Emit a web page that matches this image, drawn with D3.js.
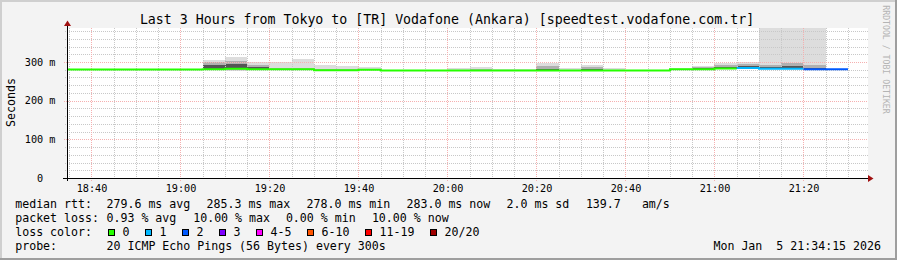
<!DOCTYPE html>
<html>
<head>
<meta charset="utf-8">
<script src="https://cdn.jsdelivr.net/npm/d3@7"></script>
<style>
  html, body { margin: 0; padding: 0; background: #f3f3f3; }
  svg { display: block; }
  text { font-family: "DejaVu Sans Mono", monospace; fill: #000; white-space: pre; }
</style>
</head>
<body>
<script>
// ---- data ----
const titleText = "Last 3 Hours from Tokyo to [TR] Vodafone (Ankara) [speedtest.vodafone.com.tr]";

// 5 minute steps (start time of each step)
const stepStarts = [
  "18:30", "18:35", "18:40", "18:45", "18:50", "18:55", "19:00", "19:05", "19:10",
  "19:15", "19:20", "19:25", "19:30", "19:35", "19:40", "19:45", "19:50", "19:55",
  "20:00", "20:05", "20:10", "20:15", "20:20", "20:25", "20:30", "20:35", "20:40",
  "20:45", "20:50", "20:55", "21:00", "21:05", "21:10", "21:15", "21:20", "21:25"
];

// median rtt (ms)
const median = [
  280.5, 280.5, 280.5, 280.5, 280.5, 280.5, 280.5, 281.0, 282.5,
  281.0, 281.0, 281.0, 278.7, 278.7, 280.0, 278.0, 278.0, 278.0,
  278.0, 278.0, 278.0, 278.0, 278.0, 278.0, 278.0, 278.0, 278.0,
  278.0, 281.5, 281.5, 283.5, 284.5, 282.5, 282.5, 281.0, 281.0
];

// lost pings out of 20
const lossCount = [
  0, 0, 0, 0, 0, 0, 0, 0, 0,
  0, 0, 0, 0, 0, 0, 0, 0, 0,
  0, 0, 0, 0, 0, 0, 0, 0, 0,
  0, 0, 0, 0, 1, 1, 1, 2, 2
];

// smoke: spread of the 20 pings (ms)
const pingMin = [
  279.5, 279.5, 279.5, 279.5, 279.5, 279.5, 279.5, 279.5, 278.0,
  279.5, 279.5, 279.5, 278.0, 278.0, 279.0, 277.5, 277.5, 277.5,
  277.5, 277.5, 277.5, 277.5, 277.5, 277.5, 277.5, 277.5, 277.5,
  277.5, 280.5, 280.5, 281.0, 283.0, 281.0, 281.0, 280.0, 280.0
];
const pingP10 = [
  280.0, 280.0, 280.0, 280.0, 280.0, 280.0, 280.0, 280.0, 279.5,
  280.0, 280.0, 280.0, 278.3, 278.3, 279.5, 277.8, 277.8, 277.8,
  277.8, 277.8, 277.8, 277.8, 278.0, 277.8, 278.0, 277.8, 277.8,
  277.8, 281.0, 281.0, 282.0, 284.0, 282.0, 282.0, 280.5, 280.5
];
const pingP25 = [
  280.5, 280.5, 280.5, 280.5, 280.5, 280.5, 280.5, 281.0, 281.0,
  281.0, 280.5, 280.5, 278.5, 278.5, 280.0, 278.0, 278.0, 278.0,
  278.0, 278.0, 278.0, 278.0, 278.5, 278.0, 278.5, 278.0, 278.0,
  278.0, 281.5, 281.5, 283.0, 284.5, 282.5, 283.0, 281.0, 281.0
];
const pingP75 = [
  280.5, 280.5, 280.5, 280.5, 280.5, 280.5, 280.5, 293.0, 295.0,
  287.0, 282.0, 282.0, 280.0, 280.0, 281.0, 278.0, 278.0, 278.0,
  279.0, 279.0, 278.5, 278.5, 283.0, 279.0, 281.0, 279.0, 278.0,
  278.0, 282.0, 284.0, 286.0, 290.0, 286.0, 290.0, 285.0, 281.5
];
const pingP90 = [
  281.0, 281.0, 281.0, 281.0, 281.0, 281.0, 281.0, 300.0, 302.0,
  293.0, 284.0, 285.0, 283.0, 282.0, 282.0, 278.5, 278.5, 278.5,
  280.0, 281.0, 279.0, 279.0, 291.0, 280.0, 286.0, 280.0, 278.5,
  278.5, 283.0, 287.0, 292.0, 296.0, 292.0, 298.0, 293.0, 282.0
];
const pingMax = [
  281.5, 281.5, 281.5, 281.5, 281.5, 281.5, 281.5, 305.0, 313.0,
  300.0, 300.0, 308.0, 293.0, 290.0, 288.0, 279.0, 279.0, 279.0,
  284.0, 288.0, 282.0, 282.0, 298.0, 284.0, 292.0, 284.0, 279.0,
  279.0, 284.0, 290.0, 298.0, 301.0, 387.0, 388.0, 388.0, 282.5
];

const yMax = 388;
const yMajorTicks = [0, 100, 200, 300];

// legend
const lossLabels = ["0", "1", "2", "3", "4-5", "6-10", "11-19", "20/20"];
const lossColors = ["#26ff00", "#00b8ff", "#0059ff", "#7e00ff", "#ff00ff", "#ff5500", "#ff0000", "#a00000"];
const lossUpper = [0, 1, 2, 3, 5, 10, 19, 20];
const rttStats = ["median rtt:", "279.6 ms avg", "285.3 ms max", "278.0 ms min", "283.0 ms now", "2.0 ms sd", "139.7", "am/s"];
const lossStats = ["packet loss:", "0.93 % avg", "10.00 % max", "0.00 % min", "10.00 % now"];
const probeText = ["probe:", "20 ICMP Echo Pings (56 Bytes) every 300s"];
const dateText = "Mon Jan  5 21:34:15 2026";

// ---- layout ----
const width = 897;
const height = 260;
const plot = { left: 67, right: 868, top: 28, bottom: 178 };
const rttX = [16, 107.3, 207.3, 307.3, 407.3, 507.3, 586.7, 642.7];
const lossX = [16, 107.3, 194, 286.7, 372.7];
const rowY = [207.5, 221.5, 235.5, 249.5];

const parseTime = s => {
  const [h, m] = s.split(":").map(Number);
  return new Date(2026, 0, 5, h, m, 0);
};
const starts = stepStarts.map(parseTime);
const ends = starts.map(d => d3.timeMinute.offset(d, 5));

const x = d3.scaleTime()
  .domain([new Date(2026, 0, 5, 18, 34, 30), new Date(2026, 0, 5, 21, 34, 30)])
  .range([plot.left, plot.right]);
const y = d3.scaleLinear().domain([0, yMax]).range([plot.bottom, plot.top]);

const lossColor = n => lossColors[lossUpper.findIndex(u => n <= u)];

const svg = d3.select("body").append("svg")
  .attr("width", width)
  .attr("height", height);

// background and frame
svg.append("rect").attr("width", width).attr("height", height).attr("fill", "#f3f3f3");
svg.append("rect")
  .attr("x", plot.left).attr("y", plot.top)
  .attr("width", plot.right - plot.left).attr("height", plot.bottom - plot.top)
  .attr("fill", "#ffffff");
const frame = svg.append("g").attr("shape-rendering", "crispEdges");
frame.append("rect").attr("x", 0).attr("y", 0).attr("width", width).attr("height", 2).attr("fill", "#cfcfcf");
frame.append("rect").attr("x", 0).attr("y", 0).attr("width", 2).attr("height", height).attr("fill", "#cfcfcf");
frame.append("rect").attr("x", 0).attr("y", height - 2).attr("width", width).attr("height", 2).attr("fill", "#9e9e9e");
frame.append("rect").attr("x", width - 2).attr("y", 0).attr("width", 2).attr("height", height).attr("fill", "#9e9e9e");

svg.append("clipPath").attr("id", "plot-clip")
  .append("rect")
  .attr("x", plot.left).attr("y", plot.top)
  .attr("width", plot.right - plot.left).attr("height", plot.bottom - plot.top);

// smoke
const bands = [
  { lo: pingMin, hi: pingMax, color: "#dddddd" },
  { lo: pingP10, hi: pingP90, color: "#b0b0b0" },
  { lo: pingP25, hi: pingP75, color: "#555555" }
];
const smoke = svg.append("g").attr("clip-path", "url(#plot-clip)").attr("shape-rendering", "crispEdges");
bands.forEach(band => {
  smoke.append("g")
    .selectAll("rect")
    .data(starts.map((d, i) => i))
    .join("rect")
    .attr("x", i => Math.round(x(starts[i])))
    .attr("width", i => Math.round(x(ends[i])) - Math.round(x(starts[i])))
    .attr("y", i => Math.round(y(band.hi[i])))
    .attr("height", i => Math.max(0, Math.round(y(band.lo[i])) - Math.round(y(band.hi[i]))))
    .attr("fill", band.color);
});

// grid
const grid = svg.append("g").attr("shape-rendering", "crispEdges");
const minorColor = "#c8c8c8";
const majorColor = "#f5b0b0";
const xMajor = x.ticks(d3.timeMinute.every(20));
const xMinor = x.ticks(d3.timeMinute.every(5)).filter(d => d.getMinutes() % 20 !== 0);
const yMinor = y.ticks(20).filter(v => !yMajorTicks.includes(v) && v < yMax);

grid.selectAll(".vminor").data(xMinor).join("line")
  .attr("x1", d => Math.round(x(d)) + 0.5).attr("x2", d => Math.round(x(d)) + 0.5)
  .attr("y1", plot.top).attr("y2", plot.bottom + 2)
  .attr("stroke", minorColor).attr("stroke-dasharray", "1,1");
grid.selectAll(".hminor").data(yMinor).join("line")
  .attr("y1", d => Math.round(y(d)) + 0.5).attr("y2", d => Math.round(y(d)) + 0.5)
  .attr("x1", plot.left - 2).attr("x2", plot.right)
  .attr("stroke", minorColor).attr("stroke-dasharray", "1,1");
grid.selectAll(".vmajor").data(xMajor).join("line")
  .attr("x1", d => Math.round(x(d)) + 0.5).attr("x2", d => Math.round(x(d)) + 0.5)
  .attr("y1", plot.top).attr("y2", plot.bottom + 3)
  .attr("stroke", majorColor).attr("stroke-dasharray", "1,1");
grid.selectAll(".hmajor").data(yMajorTicks.filter(v => v > 0)).join("line")
  .attr("y1", d => Math.round(y(d)) + 0.5).attr("y2", d => Math.round(y(d)) + 0.5)
  .attr("x1", plot.left - 3).attr("x2", plot.right)
  .attr("stroke", majorColor).attr("stroke-dasharray", "1,1");

// median line, one run per loss colour
const runs = [];
starts.forEach((d, i) => {
  const c = lossColor(lossCount[i]);
  if (!runs.length || runs[runs.length - 1].color !== c) runs.push({ color: c, idx: [] });
  runs[runs.length - 1].idx.push(i);
});
const medLine = d3.line()
  .x(p => x(p[0]))
  .y(p => y(p[1]))
  .curve(d3.curveStepAfter);
svg.append("g").attr("clip-path", "url(#plot-clip)")
  .selectAll("path")
  .data(runs)
  .join("path")
  .attr("d", r => {
    const pts = r.idx.map(i => [starts[i], median[i]]);
    const last = r.idx[r.idx.length - 1];
    pts.push([ends[last], median[last]]);
    return medLine(pts);
  })
  .attr("fill", "none")
  .attr("stroke", r => r.color)
  .attr("stroke-width", 2);

// axes
const axes = svg.append("g").attr("shape-rendering", "crispEdges");
axes.append("line")
  .attr("x1", plot.left - 4).attr("x2", plot.right + 1)
  .attr("y1", plot.bottom + 0.5).attr("y2", plot.bottom + 0.5)
  .attr("stroke", "#000");
axes.append("line")
  .attr("x1", plot.left + 0.5).attr("x2", plot.left + 0.5)
  .attr("y1", plot.bottom + 3).attr("y2", plot.top - 2)
  .attr("stroke", "#000");
svg.append("path")
  .attr("d", `M${plot.right},${plot.bottom - 3}L${plot.right + 5.5},${plot.bottom + 0.5}L${plot.right},${plot.bottom + 4}Z`)
  .attr("fill", "#a01010");
svg.append("path")
  .attr("d", `M${plot.left - 3},${plot.top - 2}L${plot.left + 0.5},${plot.top - 7.5}L${plot.left + 4},${plot.top - 2}Z`)
  .attr("fill", "#a01010");

// tick labels
svg.append("g").selectAll("text").data(xMajor).join("text")
  .attr("x", d => x(d) + 0.5)
  .attr("y", 192)
  .attr("text-anchor", "middle")
  .attr("font-size", "10.2px")
  .text(d3.timeFormat("%H:%M"));
svg.append("g").selectAll("text").data(yMajorTicks).join("text")
  .attr("x", 55.5)
  .attr("y", d => y(d) + 3.7)
  .attr("text-anchor", "end")
  .attr("font-size", "10.2px")
  .text(d => d === 0 ? "0  " : `${d} m`);

// title, unit, watermark
svg.append("text")
  .attr("x", 447).attr("y", 24)
  .attr("text-anchor", "middle")
  .attr("font-size", "13.25px")
  .text(titleText);
svg.append("text")
  .attr("transform", `translate(15,102.5) rotate(-90)`)
  .attr("text-anchor", "middle")
  .attr("font-size", "11.6px")
  .text("Seconds");
svg.append("text")
  .attr("transform", `translate(883,59.5) rotate(90)`)
  .attr("text-anchor", "middle")
  .attr("font-size", "8.2px")
  .style("fill", "#b4b4b4")
  .text("RRDTOOL / TOBI OETIKER");

// legend
const legend = svg.append("g").attr("font-size", "11.6px");
legend.selectAll(".rtt").data(rttStats).join("text")
  .attr("x", (d, i) => rttX[i] - 0.8).attr("y", rowY[0]).text(d => d);
legend.selectAll(".loss").data(lossStats).join("text")
  .attr("x", (d, i) => lossX[i] - 0.8).attr("y", rowY[1]).text(d => d);
legend.append("text").attr("x", 15.2).attr("y", rowY[2]).text("loss color:");

let lx = 108.3;
lossLabels.forEach((label, i) => {
  legend.append("rect")
    .attr("x", Math.round(lx) + 0.5).attr("y", 229.5)
    .attr("width", 6).attr("height", 6)
    .attr("fill", lossColors[i])
    .attr("stroke", "#000")
    .attr("shape-rendering", "crispEdges");
  legend.append("text").attr("x", lx + 14.3).attr("y", rowY[2]).text(label);
  lx += 15 + label.length * 7 + 15;
});

legend.append("text").attr("x", 15.2).attr("y", rowY[3]).text(probeText[0]);
legend.append("text").attr("x", 106.5).attr("y", rowY[3]).text(probeText[1]);
legend.append("text").attr("x", 881).attr("y", rowY[3]).attr("text-anchor", "end").text(dateText);
</script>
</body>
</html>
